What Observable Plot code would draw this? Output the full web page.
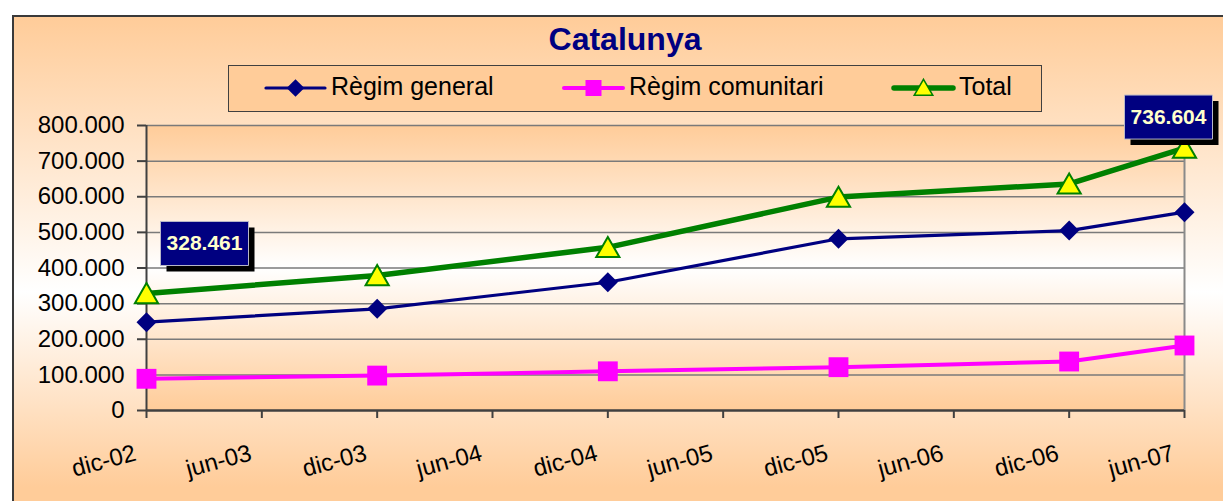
<!DOCTYPE html>
<html><head><meta charset="utf-8">
<script src="https://cdn.jsdelivr.net/npm/d3@7"></script>
<script src="https://cdn.jsdelivr.net/npm/@observablehq/plot@0.6"></script>
<style>
html,body{margin:0;padding:0;background:#fff;}
#wrap{position:relative;width:1223px;height:501px;overflow:hidden;font-family:"Liberation Sans",Arial,sans-serif;}
#frame{position:absolute;left:12px;top:15px;width:1300px;height:600px;border:2px solid #3a3a3a;box-sizing:border-box;
  background:linear-gradient(to bottom,#FFCC99 0px,#FFFFFF 275px,#FFCC99 470px);}
#plotbg{position:absolute;left:146px;top:125px;width:1038px;height:285px;
  background:linear-gradient(to bottom,#FFCC99 0%,#FFFFFF 50%,#FFCC99 100%);}
#title{position:absolute;left:625px;top:23px;transform:translateX(-50%);font-size:32px;line-height:32px;font-weight:bold;color:#000080;white-space:nowrap;}
#legend{position:absolute;left:228px;top:65px;width:814px;height:47px;box-sizing:border-box;border:1px solid #404040;background:#FFCC99;}
#legend svg{position:absolute;left:-1px;top:-1px;}
#chart{position:absolute;left:0;top:0;}
</style>
</head><body>
<div id="wrap">
  <div id="frame"></div>
  <div id="plotbg"></div>
  <div id="title">Catalunya</div>
  <div id="legend"></div>
  <div id="chart"></div>
</div>
<script>
// ---- data ----
const periods = ["2002-12","2003-12","2004-12","2005-12","2006-12","2007-06"];
const regimGeneral = [248000, 285500, 360000, 482000, 505000, 556700];
const regimComunitari = [89000, 98000, 110000, 121600, 137500, 182500];
const total = [328461, 379000, 458000, 599000, 636000, 736604];
const seriesNames = ["Règim general", "Règim comunitari", "Total"];
const tickPeriods = ["2002-12","2003-06","2003-12","2004-06","2004-12","2005-06","2005-12","2006-06","2006-12","2007-06"];
const tickLabels = ["dic-02","jun-03","dic-03","jun-04","dic-04","jun-05","dic-05","jun-06","dic-06","jun-07"];
const yTicks = [0,100000,200000,300000,400000,500000,600000,700000,800000];

// ---- helpers ----
const monthIndex = p => { const [y, m] = p.split("-").map(Number); return y * 12 + m - 1; };
const loc = d3.formatLocale({decimal: ",", thousands: ".", grouping: [3], currency: ["", "€"]});
const fmt = loc.format(",d");

const colors = {"Règim general": "#000080", "Règim comunitari": "#FF00FF", "Total": "#008000"};
const seriesValues = [regimGeneral, regimComunitari, total];
const rows = seriesNames.map((s, k) => periods.map((p, i) => ({series: s, m: monthIndex(p), v: seriesValues[k][i]})));
const [genRows, comRows, totRows] = rows;
const ticks = tickPeriods.map((p, i) => ({m: monthIndex(p), label: tickLabels[i]}));
const xDomain = [monthIndex(tickPeriods[0]), monthIndex(tickPeriods[tickPeriods.length - 1])];

const boxSymbol = {draw(ctx) { ctx.moveTo(-44, -22); ctx.lineTo(44, -22); ctx.lineTo(44, 22); ctx.lineTo(-44, 22); ctx.closePath(); }};
function dataLabel(d, dx, dy) {
  return [
    Plot.dot([d], {x: "m", y: "v", symbol: boxSymbol, fill: "#000", stroke: "none", dx: dx + 6, dy: dy + 6}),
    Plot.dot([d], {x: "m", y: "v", symbol: boxSymbol, fill: "#000080", stroke: "#B8B8C8", strokeWidth: 1, dx, dy}),
    Plot.text([d], {x: "m", y: "v", text: r => fmt(r.v), fill: "#FFFFCC", fontSize: 21, fontWeight: "bold", dx, dy})
  ];
}

const chart = Plot.plot({
  width: 1223, height: 501,
  marginLeft: 146, marginRight: 39, marginTop: 125, marginBottom: 91,
  style: {background: "transparent", fontFamily: "Liberation Sans, Arial, sans-serif", overflow: "visible", color: "#000"},
  x: {domain: xDomain, axis: null, label: null},
  y: {domain: [0, 800000], axis: null, label: null},
  marks: [
    Plot.ruleY(yTicks.slice(1), {stroke: "#7a7a7a", strokeWidth: 1.5}),
    Plot.ruleX([xDomain[1]], {stroke: "#8a8a8a", strokeWidth: 2}),
    Plot.axisY({ticks: yTicks, label: null, tickSize: 9, tickPadding: 13, tickFormat: fmt, fontSize: 24, stroke: "#404040", strokeWidth: 2, fill: "#000"}),
    Plot.axisX({ticks: ticks.map(t => t.m), label: null, tickSize: 8, tickFormat: () => "", stroke: "#404040", strokeWidth: 2}),
    Plot.ruleX([xDomain[0]], {stroke: "#404040", strokeWidth: 2}),
    Plot.ruleY([0], {stroke: "#404040", strokeWidth: 2.5}),
    Plot.text(ticks, {x: "m", frameAnchor: "bottom", text: "label", rotate: -15, textAnchor: "end", lineAnchor: "middle", dx: -11, dy: 42, fontSize: 24, fill: "#000"}),
    Plot.line(genRows, {x: "m", y: "v", stroke: colors["Règim general"], strokeWidth: 3.2}),
    Plot.line(comRows, {x: "m", y: "v", stroke: colors["Règim comunitari"], strokeWidth: 4}),
    Plot.line(totRows, {x: "m", y: "v", stroke: colors["Total"], strokeWidth: 5.5}),
    Plot.dot(genRows, {x: "m", y: "v", symbol: "diamond2", r: 9, fill: colors["Règim general"], stroke: "none"}),
    Plot.dot(comRows, {x: "m", y: "v", symbol: "square", r: 11.2, fill: colors["Règim comunitari"], stroke: "none"}),
    Plot.dot(totRows, {x: "m", y: "v", symbol: "triangle", r: 8.6, fill: "#FFFF00", stroke: colors["Total"], strokeWidth: 2, dy: 3}),
    ...dataLabel(totRows[0], 58, -50),
    ...dataLabel(totRows[totRows.length - 1], -16, -31)
  ]
});
document.getElementById("chart").appendChild(chart);

// ---- legend ----
const lg = d3.create("svg").attr("width", 814).attr("height", 47)
  .style("font-family", "Liberation Sans, Arial, sans-serif");
const legendItems = [
  {name: seriesNames[0], x: 38, sym: d3.symbolDiamond2, size: 200, fill: colors["Règim general"], stroke: "none", w: 3.2},
  {name: seriesNames[1], x: 336, sym: d3.symbolSquare, size: 256, fill: colors["Règim comunitari"], stroke: "none", w: 4},
  {name: seriesNames[2], x: 666, sym: d3.symbolTriangle, size: 150, fill: "#FFFF00", stroke: colors["Total"], w: 5.5}
];
for (const it of legendItems) {
  const g = lg.append("g");
  g.append("line").attr("x1", it.x).attr("x2", it.x + 59).attr("y1", 23).attr("y2", 23)
    .attr("stroke", colors[it.name]).attr("stroke-width", it.w).attr("stroke-linecap", "round");
  g.append("path").attr("d", d3.symbol(it.sym, it.size)()).attr("transform", `translate(${it.x + 29.5},${it.sym === d3.symbolTriangle ? 25 : 23})`)
    .attr("fill", it.fill).attr("stroke", it.stroke).attr("stroke-width", 1.5);
  g.append("text").attr("x", it.x + 65).attr("y", 30).attr("font-size", 25).attr("fill", "#000").text(it.name);
}
document.getElementById("legend").appendChild(lg.node());
</script>
</body></html>
